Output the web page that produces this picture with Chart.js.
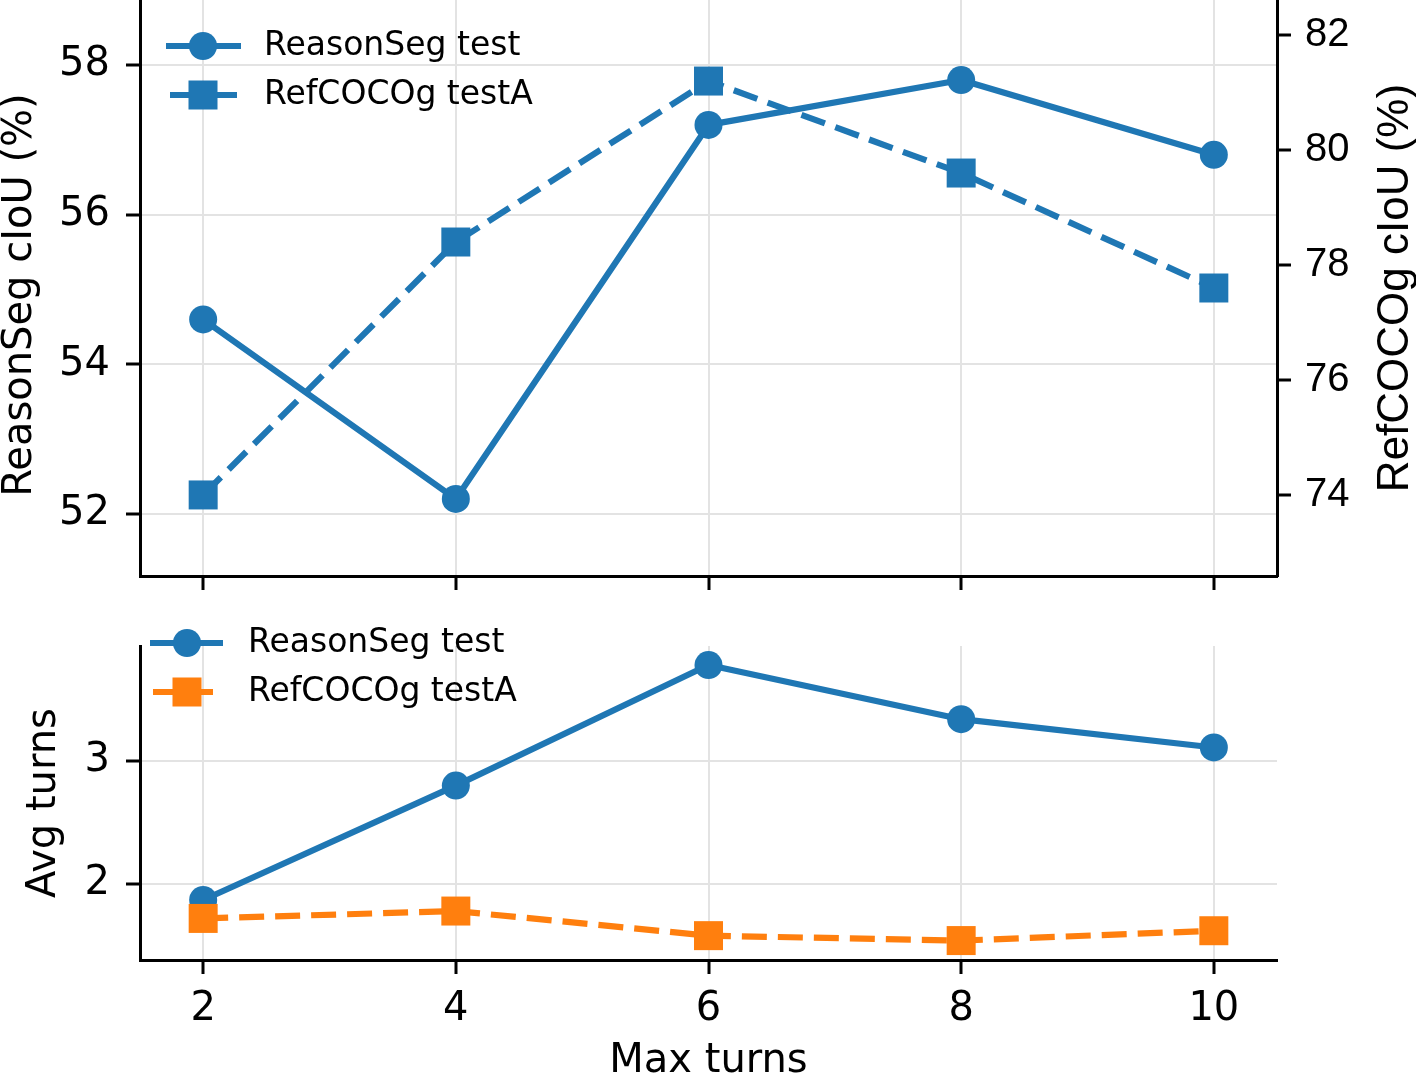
<!DOCTYPE html>
<html>
<head>
<meta charset="utf-8">
<script src="https://cdn.jsdelivr.net/npm/chart.js@4.4.0/dist/chart.umd.min.js"></script>
<style>
  body { margin: 0; background: #fff; }
  #wrap { position: relative; width: 1416px; height: 1079px; }
  canvas { position: absolute; left: 0; }
</style>
</head>
<body>
<div id="wrap">
  <canvas id="ciou" width="1416" height="600" style="top:0"></canvas>
  <canvas id="turns" width="1416" height="479" style="top:600px"></canvas>
</div>
<script>
const maxTurns = [2, 4, 6, 8, 10];
const reasonSegCiou = [54.6, 52.2, 57.2, 57.8, 56.8];
const refcocogCiou = [74.0, 78.4, 81.2, 79.6, 77.6];
const reasonSegTurns = [1.87, 2.80, 3.78, 3.34, 3.11];
const refcocogTurns = [1.72, 1.78, 1.58, 1.54, 1.62];

const xTicks = [2, 4, 6, 8, 10];
const ciouTicks = [52, 54, 56, 58];
const refTicks = [74, 76, 78, 80, 82];
const turnTicks = [2, 3];

const BLUE = '#1f77b4';
const ORANGE = '#ff7f0e';
const DEJAVU = 'DejaVu Sans';
const ARIAL = 'Liberation Sans';
const LW = 6.2;
const DASH = [25, 11];

const pts = (xs, ys) => xs.map((x, i) => ({ x: x, y: ys[i] }));

const grid = { color: '#e3e3e3', lineWidth: 2, tickColor: '#000', tickWidth: 3, tickLength: 14 };
const border = { display: true, color: '#000', width: 3 };

function setTicks(values) {
  return scale => { scale.ticks = values.map(v => ({ value: v })); };
}
function fixWidth(w) {
  return scale => { scale.width = w; scale.paddingTop = 0; scale.paddingBottom = 0; };
}
function fixHeight(h) {
  return scale => { scale.height = h; scale.paddingLeft = 0; scale.paddingRight = 0; };
}

// axis titles and matplotlib-like legend
const decor = {
  id: 'decor',
  afterDraw(chart, args, opts) {
    const ctx = chart.ctx;
    const area = chart.chartArea;
    ctx.save();
    ctx.fillStyle = '#000';
    (opts.titles || []).forEach(t => {
      const x = t.x != null ? t.x : (area.left + area.right) / 2;
      const y = t.y != null ? t.y : (area.top + area.bottom) / 2;
      ctx.save();
      ctx.font = t.size + 'px "' + t.family + '"';
      ctx.textAlign = 'center';
      ctx.textBaseline = t.baseline || 'middle';
      ctx.translate(x, y);
      if (t.rotate) ctx.rotate(-Math.PI / 2);
      ctx.fillText(t.text, 0, 0);
      ctx.restore();
    });
    const lg = opts.legend;
    if (lg) {
      lg.items.forEach((it, i) => {
        const y = lg.y + i * lg.dy;
        const seg = it.seg || [lg.x0, lg.x1];
        ctx.save();
        ctx.strokeStyle = it.color;
        ctx.fillStyle = it.color;
        ctx.lineWidth = LW;
        ctx.beginPath();
        ctx.moveTo(seg[0], y);
        ctx.lineTo(seg[1], y);
        ctx.stroke();
        if (it.style === 'circle') {
          ctx.beginPath();
          ctx.arc(lg.mx, y, 14, 0, Math.PI * 2);
          ctx.fill();
        } else {
          ctx.fillRect(lg.mx - 14.5, y - 14.5, 29, 29);
        }
        ctx.fillStyle = '#000';
        ctx.font = '33px "' + DEJAVU + '"';
        ctx.textAlign = 'left';
        ctx.textBaseline = 'middle';
        ctx.fillText(it.label, lg.tx, y);
        ctx.restore();
      });
    }
    ctx.restore();
  }
};

function lineSet(label, data, color, style, dashed, axisId, order) {
  const r = style === 'rect' ? 20.5 : 14;
  return {
    label: label,
    data: data,
    yAxisID: axisId,
    order: order,
    borderColor: color,
    backgroundColor: color,
    borderWidth: LW,
    borderDash: dashed ? DASH : [],
    borderJoinStyle: 'round',
    pointStyle: style,
    pointRadius: r,
    pointHoverRadius: r,
    pointBorderWidth: 0,
    tension: 0,
    clip: false
  };
}

const common = {
  responsive: false,
  animation: false,
  devicePixelRatio: 1,
  events: []
};

new Chart(document.getElementById('ciou'), {
  type: 'line',
  data: {
    datasets: [
      lineSet('ReasonSeg test', pts(maxTurns, reasonSegCiou), BLUE, 'circle', false, 'y', 1),
      lineSet('RefCOCOg testA', pts(maxTurns, refcocogCiou), BLUE, 'rect', true, 'y1', 0)
    ]
  },
  options: Object.assign({}, common, {
    layout: { autoPadding: false, padding: 0 },
    scales: {
      x: {
        type: 'linear', position: 'bottom', min: 1.5, max: 10.5,
        grid: grid, border: border,
        afterBuildTicks: setTicks(xTicks),
        afterFit: fixHeight(24),
        ticks: { autoSkip: false, callback: () => '' }
      },
      y: {
        type: 'linear', position: 'left', min: 51.17, max: 58.87,
        grid: grid, border: border,
        afterBuildTicks: setTicks(ciouTicks),
        afterFit: fixWidth(140),
        ticks: { padding: 16, color: '#000', font: { family: DEJAVU, size: 40 } }
      },
      y1: {
        type: 'linear', position: 'right', min: 72.59, max: 82.61,
        grid: Object.assign({}, grid, { drawOnChartArea: false }), border: border,
        afterBuildTicks: setTicks(refTicks),
        afterFit: fixWidth(139),
        ticks: { padding: 14, color: '#000', font: { family: ARIAL, size: 40 } }
      }
    },
    plugins: {
      legend: { display: false },
      tooltip: { enabled: false },
      decor: {
        titles: [
          { text: 'ReasonSeg cIoU (%)', family: DEJAVU, size: 40, x: 21, y: 295, rotate: true },
          { text: 'RefCOCOg cIoU (%)', family: ARIAL, size: 44, x: 1396, y: 288, rotate: true }
        ],
        legend: {
          x0: 166, x1: 241, mx: 203, tx: 264, y: 46, dy: 49,
          items: [
            { label: 'ReasonSeg test', color: BLUE, style: 'circle' },
            { label: 'RefCOCOg testA', color: BLUE, style: 'rect', seg: [170, 237] }
          ]
        }
      }
    }
  }),
  plugins: [decor]
});

new Chart(document.getElementById('turns'), {
  type: 'line',
  data: {
    datasets: [
      lineSet('ReasonSeg test', pts(maxTurns, reasonSegTurns), BLUE, 'circle', false, 'y', 1),
      lineSet('RefCOCOg testA', pts(maxTurns, refcocogTurns), ORANGE, 'rect', true, 'y', 0)
    ]
  },
  options: Object.assign({}, common, {
    layout: { autoPadding: false, padding: { top: 46, right: 139, left: 0, bottom: 0 } },
    scales: {
      x: {
        type: 'linear', position: 'bottom', min: 1.5, max: 10.5,
        grid: grid, border: border,
        afterBuildTicks: setTicks(xTicks),
        afterFit: fixHeight(119),
        ticks: { autoSkip: false, maxRotation: 0, padding: 12, color: '#000', font: { family: DEJAVU, size: 40 } }
      },
      y: {
        type: 'linear', position: 'left', min: 1.382, max: 3.935,
        grid: grid, border: border,
        afterBuildTicks: setTicks(turnTicks),
        afterFit: fixWidth(140),
        ticks: { padding: 16, color: '#000', font: { family: DEJAVU, size: 40 } }
      }
    },
    plugins: {
      legend: { display: false },
      tooltip: { enabled: false },
      decor: {
        titles: [
          { text: 'Avg turns', family: DEJAVU, size: 40, x: 45, rotate: true },
          { text: 'Max turns', family: DEJAVU, size: 40, y: 472, baseline: 'alphabetic' }
        ],
        legend: {
          x0: 150, x1: 223, mx: 187, tx: 248, y: 43, dy: 49,
          items: [
            { label: 'ReasonSeg test', color: BLUE, style: 'circle' },
            { label: 'RefCOCOg testA', color: ORANGE, style: 'rect', seg: [153, 213] }
          ]
        }
      }
    }
  }),
  plugins: [decor]
});
</script>
</body>
</html>
